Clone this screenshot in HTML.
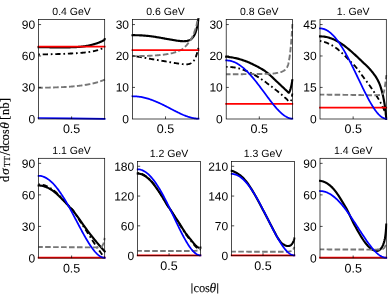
<!DOCTYPE html>
<html lang="en">
<head>
<meta charset="utf-8">
<title>Differential cross sections</title>
<style>
html,body{margin:0;padding:0;background:#fff;}
body{width:390px;height:295px;overflow:hidden;}
svg{display:block;will-change:transform;}
.t{font-family:"Liberation Sans",Arial,Helvetica,sans-serif;font-size:12px;fill:#000;}
.x{font-family:"Liberation Sans",Arial,Helvetica,sans-serif;font-size:12.5px;fill:#000;}
.h{font-family:"Liberation Sans",Arial,Helvetica,sans-serif;font-size:10.5px;fill:#000;}
.s{font-family:"Liberation Serif","Times New Roman",serif;font-size:12px;fill:#000;stroke:#000;stroke-width:0.18px;}
.i{font-style:italic;}
</style>
</head>
<body>
<svg width="390" height="295" viewBox="0 0 390 295">
<rect width="390" height="295" fill="#fff"/>
<defs>
<clipPath id="c0"><rect x="37.30" y="17.90" width="68.60" height="102.30"/></clipPath>
<clipPath id="c1"><rect x="131.20" y="17.90" width="68.60" height="102.30"/></clipPath>
<clipPath id="c2"><rect x="225.00" y="17.90" width="68.60" height="102.30"/></clipPath>
<clipPath id="c3"><rect x="318.80" y="17.90" width="68.70" height="102.30"/></clipPath>
<clipPath id="c4"><rect x="37.30" y="156.70" width="68.60" height="102.60"/></clipPath>
<clipPath id="c5"><rect x="136.40" y="159.90" width="65.30" height="97.05"/></clipPath>
<clipPath id="c6"><rect x="230.40" y="159.90" width="65.20" height="97.05"/></clipPath>
<clipPath id="c7"><rect x="318.80" y="156.70" width="68.70" height="102.60"/></clipPath>
</defs>
<g>
<g clip-path="url(#c0)" fill="none" stroke-linejoin="round">
<path d="M38.50 47.10 L39.59 47.12 L40.67 47.14 L41.74 47.16 L42.81 47.18 L43.87 47.20 L44.91 47.22 L45.96 47.24 L46.99 47.26 L48.01 47.28 L49.03 47.30 L50.04 47.32 L51.04 47.33 L52.03 47.35 L53.01 47.37 L53.99 47.38 L54.95 47.40 L55.91 47.41 L56.86 47.42 L57.80 47.43 L58.74 47.43 L59.66 47.44 L60.58 47.44 L61.49 47.44 L62.39 47.43 L63.28 47.43 L64.16 47.42 L65.04 47.41 L65.91 47.40 L66.76 47.39 L67.61 47.38 L68.45 47.36 L69.29 47.34 L70.11 47.32 L70.92 47.30 L71.73 47.28 L72.53 47.25 L73.32 47.22 L74.10 47.19 L74.87 47.16 L75.63 47.12 L76.39 47.08 L77.13 47.03 L77.87 46.98 L78.59 46.93 L79.31 46.87 L80.02 46.81 L80.72 46.74 L81.41 46.67 L82.10 46.59 L82.77 46.51 L83.44 46.42 L84.09 46.33 L84.74 46.23 L85.37 46.13 L86.00 46.03 L86.62 45.92 L87.23 45.80 L87.83 45.69 L88.42 45.57 L89.00 45.45 L89.57 45.33 L90.14 45.20 L90.69 45.07 L91.23 44.94 L91.77 44.81 L92.29 44.68 L92.81 44.54 L93.31 44.40 L93.81 44.27 L94.29 44.13 L94.77 43.99 L95.23 43.84 L95.69 43.70 L96.13 43.56 L96.57 43.41 L96.99 43.27 L97.41 43.12 L97.81 42.97 L98.21 42.83 L98.59 42.68 L98.97 42.53 L99.33 42.39 L99.68 42.24 L100.02 42.10 L100.36 41.96 L100.68 41.82 L100.99 41.68 L101.28 41.55 L101.57 41.42 L101.85 41.29 L102.11 41.16 L102.36 41.04 L102.61 40.92 L102.84 40.81 L103.05 40.69 L103.26 40.59 L103.45 40.48 L103.63 40.38 L103.80 40.28 L103.96 40.18 L104.10 40.08 L104.23 39.98 L104.34 39.87 L104.44 39.76 L104.53 39.63 L104.60 39.50 L104.65 39.37 L104.69 39.25 L104.70 39.20" stroke="#000" stroke-width="2.15" stroke-linecap="square"/>
<path d="M38.50 54.50 L39.59 54.48 L40.67 54.46 L41.74 54.44 L42.81 54.41 L43.87 54.39 L44.91 54.37 L45.96 54.34 L46.99 54.32 L48.01 54.29 L49.03 54.26 L50.04 54.24 L51.04 54.21 L52.03 54.18 L53.01 54.16 L53.99 54.13 L54.95 54.10 L55.91 54.07 L56.86 54.05 L57.80 54.02 L58.74 53.99 L59.66 53.96 L60.58 53.93 L61.49 53.90 L62.39 53.87 L63.28 53.83 L64.16 53.80 L65.04 53.77 L65.91 53.73 L66.76 53.70 L67.61 53.66 L68.45 53.62 L69.29 53.58 L70.11 53.54 L70.92 53.50 L71.73 53.46 L72.53 53.42 L73.32 53.38 L74.10 53.34 L74.87 53.30 L75.63 53.25 L76.39 53.21 L77.13 53.17 L77.87 53.12 L78.59 53.07 L79.31 53.02 L80.02 52.97 L80.72 52.91 L81.41 52.85 L82.10 52.79 L82.77 52.73 L83.44 52.66 L84.09 52.59 L84.74 52.53 L85.37 52.45 L86.00 52.38 L86.62 52.30 L87.23 52.23 L87.83 52.15 L88.42 52.07 L89.00 51.98 L89.57 51.90 L90.14 51.81 L90.69 51.72 L91.23 51.63 L91.77 51.54 L92.29 51.44 L92.81 51.34 L93.31 51.24 L93.81 51.14 L94.29 51.03 L94.77 50.92 L95.23 50.81 L95.69 50.70 L96.13 50.59 L96.57 50.47 L96.99 50.35 L97.41 50.24 L97.81 50.11 L98.21 49.99 L98.59 49.87 L98.97 49.74 L99.33 49.62 L99.68 49.49 L100.02 49.36 L100.36 49.24 L100.68 49.11 L100.99 48.98 L101.28 48.85 L101.57 48.72 L101.85 48.60 L102.11 48.47 L102.36 48.35 L102.61 48.23 L102.84 48.11 L103.05 47.99 L103.26 47.88 L103.45 47.77 L103.63 47.67 L103.80 47.57 L103.96 47.48 L104.10 47.39 L104.23 47.31 L104.34 47.24 L104.44 47.17 L104.53 47.11 L104.60 47.07 L104.65 47.03 L104.69 47.01 L104.70 47.00" stroke="#000" stroke-width="1.85" stroke-dasharray="5.3 2.8 1.7 2.8" stroke-dashoffset="8.4"/>
<path d="M38.50 87.80 L39.59 87.78 L40.67 87.76 L41.74 87.74 L42.81 87.72 L43.87 87.70 L44.91 87.68 L45.96 87.65 L46.99 87.63 L48.01 87.60 L49.03 87.58 L50.04 87.55 L51.04 87.52 L52.03 87.49 L53.01 87.46 L53.99 87.43 L54.95 87.40 L55.91 87.37 L56.86 87.34 L57.80 87.30 L58.74 87.27 L59.66 87.24 L60.58 87.20 L61.49 87.16 L62.39 87.13 L63.28 87.08 L64.16 87.04 L65.04 87.00 L65.91 86.95 L66.76 86.90 L67.61 86.85 L68.45 86.79 L69.29 86.73 L70.11 86.67 L70.92 86.61 L71.73 86.54 L72.53 86.47 L73.32 86.40 L74.10 86.32 L74.87 86.25 L75.63 86.17 L76.39 86.09 L77.13 86.01 L77.87 85.92 L78.59 85.84 L79.31 85.75 L80.02 85.66 L80.72 85.57 L81.41 85.48 L82.10 85.39 L82.77 85.29 L83.44 85.20 L84.09 85.10 L84.74 85.00 L85.37 84.90 L86.00 84.80 L86.62 84.70 L87.23 84.60 L87.83 84.50 L88.42 84.39 L89.00 84.28 L89.57 84.17 L90.14 84.06 L90.69 83.95 L91.23 83.84 L91.77 83.72 L92.29 83.60 L92.81 83.48 L93.31 83.36 L93.81 83.23 L94.29 83.11 L94.77 82.98 L95.23 82.86 L95.69 82.73 L96.13 82.60 L96.57 82.48 L96.99 82.35 L97.41 82.23 L97.81 82.11 L98.21 81.98 L98.59 81.87 L98.97 81.75 L99.33 81.63 L99.68 81.52 L100.02 81.40 L100.36 81.29 L100.68 81.18 L100.99 81.07 L101.28 80.96 L101.57 80.86 L101.85 80.76 L102.11 80.66 L102.36 80.56 L102.61 80.47 L102.84 80.38 L103.05 80.29 L103.26 80.21 L103.45 80.13 L103.63 80.06 L103.80 79.99 L103.96 79.92 L104.10 79.86 L104.23 79.81 L104.34 79.76 L104.44 79.71 L104.53 79.68 L104.60 79.65 L104.65 79.62 L104.69 79.61 L104.70 79.60" stroke="#777" stroke-width="1.90" stroke-dasharray="5.6 2.35" stroke-dashoffset="1.3"/>
<path d="M37.60 46.50 L105.60 46.50" stroke="#ff0000" stroke-width="1.75"/>
<path d="M38.50 118.00 L71.00 118.30 L104.70 118.80" stroke="#0000ff" stroke-width="1.75" stroke-linecap="square"/>
</g>
<text transform="translate(35.10 123.20) rotate(0.03)" text-anchor="end" class="t">0</text>
<text transform="translate(35.10 91.52) rotate(0.03)" text-anchor="end" class="t">30</text>
<text transform="translate(35.10 60.08) rotate(0.03)" text-anchor="end" class="t">60</text>
<text transform="translate(35.10 28.65) rotate(0.03)" text-anchor="end" class="t">90</text>
<rect x="38.50" y="19.50" width="66.20" height="99.50" fill="none" stroke="#000" stroke-width="0.70"/>
<path d="M38.50 87.42h2.60M38.50 55.98h2.60M38.50 24.55h2.60M71.60 119.00v-2.60" stroke="#000" stroke-width="0.70" fill="none"/>
<text transform="translate(71.60 133.00) rotate(0.03)" text-anchor="middle" class="x">0.5</text>
<text transform="translate(71.60 15.10) rotate(0.03)" text-anchor="middle" class="h">0.4 GeV</text>
</g>
<g>
<g clip-path="url(#c1)" fill="none" stroke-linejoin="round">
<path d="M132.40 35.20 L133.49 35.19 L134.57 35.19 L135.64 35.20 L136.71 35.22 L137.77 35.25 L138.81 35.28 L139.86 35.32 L140.89 35.38 L141.91 35.43 L142.93 35.50 L143.94 35.57 L144.94 35.65 L145.93 35.74 L146.91 35.83 L147.89 35.93 L148.85 36.04 L149.81 36.15 L150.76 36.27 L151.70 36.39 L152.64 36.52 L153.56 36.65 L154.48 36.79 L155.39 36.93 L156.29 37.07 L157.18 37.22 L158.06 37.36 L158.94 37.51 L159.81 37.66 L160.66 37.81 L161.51 37.97 L162.35 38.12 L163.19 38.27 L164.01 38.42 L164.82 38.57 L165.63 38.72 L166.43 38.86 L167.22 39.00 L168.00 39.14 L168.77 39.28 L169.53 39.42 L170.29 39.55 L171.03 39.68 L171.77 39.81 L172.49 39.93 L173.21 40.05 L173.92 40.17 L174.62 40.28 L175.31 40.39 L176.00 40.50 L176.67 40.60 L177.34 40.70 L177.99 40.79 L178.64 40.87 L179.27 40.94 L179.90 41.01 L180.52 41.07 L181.13 41.12 L181.73 41.16 L182.32 41.19 L182.90 41.21 L183.47 41.21 L184.04 41.21 L184.59 41.19 L185.13 41.16 L185.67 41.11 L186.19 41.06 L186.71 40.98 L187.21 40.89 L187.71 40.78 L188.19 40.64 L188.67 40.49 L189.13 40.31 L189.59 40.11 L190.03 39.88 L190.47 39.62 L190.89 39.33 L191.31 39.01 L191.71 38.66 L192.11 38.28 L192.49 37.87 L192.87 37.42 L193.23 36.94 L193.58 36.43 L193.92 35.88 L194.26 35.29 L194.58 34.66 L194.89 33.99 L195.18 33.29 L195.47 32.55 L195.75 31.78 L196.01 30.96 L196.26 30.12 L196.51 29.25 L196.74 28.36 L196.95 27.44 L197.16 26.51 L197.35 25.56 L197.53 24.62 L197.70 23.69 L197.86 22.77 L198.00 21.88 L198.13 21.03 L198.24 20.23 L198.34 19.51 L198.43 18.87 L198.50 18.33 L198.55 17.90 L198.59 17.62 L198.60 17.50" stroke="#000" stroke-width="2.15" stroke-linecap="square"/>
<path d="M132.40 56.10 L133.49 56.18 L134.57 56.28 L135.64 56.39 L136.71 56.51 L137.77 56.64 L138.81 56.78 L139.86 56.94 L140.89 57.10 L141.91 57.27 L142.93 57.44 L143.94 57.62 L144.94 57.81 L145.93 58.00 L146.91 58.19 L147.89 58.38 L148.85 58.57 L149.81 58.75 L150.76 58.93 L151.70 59.11 L152.64 59.27 L153.56 59.43 L154.48 59.59 L155.39 59.74 L156.29 59.89 L157.18 60.03 L158.06 60.17 L158.94 60.31 L159.81 60.45 L160.66 60.59 L161.51 60.72 L162.35 60.86 L163.19 60.99 L164.01 61.13 L164.82 61.27 L165.63 61.41 L166.43 61.55 L167.22 61.69 L168.00 61.83 L168.77 61.97 L169.53 62.11 L170.29 62.24 L171.03 62.37 L171.77 62.50 L172.49 62.62 L173.21 62.75 L173.92 62.87 L174.62 62.98 L175.31 63.09 L176.00 63.20 L176.67 63.30 L177.34 63.41 L177.99 63.51 L178.64 63.61 L179.27 63.70 L179.90 63.80 L180.52 63.89 L181.13 63.98 L181.73 64.06 L182.32 64.13 L182.90 64.20 L183.47 64.26 L184.04 64.32 L184.59 64.36 L185.13 64.39 L185.67 64.41 L186.19 64.41 L186.71 64.39 L187.21 64.34 L187.71 64.28 L188.19 64.20 L188.67 64.10 L189.13 63.98 L189.59 63.84 L190.03 63.67 L190.47 63.48 L190.89 63.26 L191.31 63.02 L191.71 62.76 L192.11 62.47 L192.49 62.15 L192.87 61.81 L193.23 61.43 L193.58 61.01 L193.92 60.56 L194.26 60.07 L194.58 59.54 L194.89 58.97 L195.18 58.35 L195.47 57.70 L195.75 57.02 L196.01 56.32 L196.26 55.61 L196.51 54.90 L196.74 54.20 L196.95 53.51 L197.16 52.82 L197.35 52.15 L197.53 51.49 L197.70 50.86 L197.86 50.25 L198.00 49.67 L198.13 49.13 L198.24 48.64 L198.34 48.19 L198.43 47.81 L198.50 47.48 L198.55 47.24 L198.59 47.07 L198.60 47.00" stroke="#000" stroke-width="1.85" stroke-dasharray="5.3 2.8 1.7 2.8" stroke-dashoffset="8.4"/>
<path d="M132.40 56.10 L133.49 56.11 L134.57 56.12 L135.64 56.12 L136.71 56.11 L137.77 56.11 L138.81 56.09 L139.86 56.08 L140.89 56.06 L141.91 56.04 L142.93 56.01 L143.94 55.98 L144.94 55.95 L145.93 55.91 L146.91 55.87 L147.89 55.83 L148.85 55.78 L149.81 55.74 L150.76 55.69 L151.70 55.63 L152.64 55.58 L153.56 55.52 L154.48 55.46 L155.39 55.40 L156.29 55.34 L157.18 55.27 L158.06 55.20 L158.94 55.13 L159.81 55.06 L160.66 54.98 L161.51 54.90 L162.35 54.81 L163.19 54.72 L164.01 54.62 L164.82 54.52 L165.63 54.42 L166.43 54.30 L167.22 54.18 L168.00 54.05 L168.77 53.91 L169.53 53.76 L170.29 53.61 L171.03 53.44 L171.77 53.27 L172.49 53.08 L173.21 52.89 L173.92 52.68 L174.62 52.47 L175.31 52.24 L176.00 52.00 L176.67 51.76 L177.34 51.51 L177.99 51.26 L178.64 51.00 L179.27 50.73 L179.90 50.45 L180.52 50.14 L181.13 49.82 L181.73 49.47 L182.32 49.09 L182.90 48.69 L183.47 48.27 L184.04 47.80 L184.59 47.29 L185.13 46.76 L185.67 46.20 L186.19 45.62 L186.71 45.03 L187.21 44.42 L187.71 43.81 L188.19 43.20 L188.67 42.58 L189.13 41.97 L189.59 41.35 L190.03 40.73 L190.47 40.09 L190.89 39.42 L191.31 38.74 L191.71 38.03 L192.11 37.28 L192.49 36.51 L192.87 35.70 L193.23 34.88 L193.58 34.03 L193.92 33.17 L194.26 32.31 L194.58 31.43 L194.89 30.55 L195.18 29.68 L195.47 28.81 L195.75 27.94 L196.01 27.05 L196.26 26.14 L196.51 25.20 L196.74 24.24 L196.95 23.25 L197.16 22.23 L197.35 21.21 L197.53 20.20 L197.70 19.22 L197.86 18.27 L198.00 17.37 L198.13 16.52 L198.24 15.73 L198.34 15.01 L198.43 14.37 L198.50 13.83 L198.55 13.40 L198.59 13.12 L198.60 13.00" stroke="#777" stroke-width="1.90" stroke-dasharray="5.6 2.35" stroke-dashoffset="1.3"/>
<path d="M131.50 50.20 L199.50 50.20" stroke="#ff0000" stroke-width="1.75"/>
<path d="M132.40 96.25 L133.49 96.26 L134.57 96.30 L135.64 96.36 L136.71 96.44 L137.77 96.54 L138.81 96.67 L139.86 96.81 L140.89 96.98 L141.91 97.17 L142.93 97.37 L143.94 97.59 L144.94 97.83 L145.93 98.08 L146.91 98.35 L147.89 98.63 L148.85 98.93 L149.81 99.24 L150.76 99.56 L151.70 99.90 L152.64 100.24 L153.56 100.59 L154.48 100.96 L155.39 101.33 L156.29 101.70 L157.18 102.09 L158.06 102.48 L158.94 102.87 L159.81 103.27 L160.66 103.67 L161.51 104.08 L162.35 104.48 L163.19 104.89 L164.01 105.30 L164.82 105.71 L165.63 106.12 L166.43 106.52 L167.22 106.93 L168.00 107.33 L168.77 107.73 L169.53 108.13 L170.29 108.52 L171.03 108.91 L171.77 109.29 L172.49 109.67 L173.21 110.04 L173.92 110.41 L174.62 110.77 L175.31 111.12 L176.00 111.47 L176.67 111.81 L177.34 112.14 L177.99 112.46 L178.64 112.77 L179.27 113.08 L179.90 113.38 L180.52 113.67 L181.13 113.95 L181.73 114.22 L182.32 114.48 L182.90 114.74 L183.47 114.98 L184.04 115.22 L184.59 115.44 L185.13 115.66 L185.67 115.87 L186.19 116.06 L186.71 116.25 L187.21 116.43 L187.71 116.61 L188.19 116.77 L188.67 116.92 L189.13 117.07 L189.59 117.21 L190.03 117.34 L190.47 117.46 L190.89 117.57 L191.31 117.68 L191.71 117.78 L192.11 117.87 L192.49 117.96 L192.87 118.03 L193.23 118.11 L193.58 118.17 L193.92 118.23 L194.26 118.29 L194.58 118.34 L194.89 118.38 L195.18 118.42 L195.47 118.46 L195.75 118.49 L196.01 118.52 L196.26 118.54 L196.51 118.56 L196.74 118.58 L196.95 118.60 L197.16 118.61 L197.35 118.62 L197.53 118.63 L197.70 118.63 L197.86 118.64 L198.00 118.64 L198.13 118.65 L198.24 118.65 L198.34 118.65 L198.43 118.65 L198.50 118.65 L198.55 118.65 L198.59 118.65 L198.60 118.65" stroke="#0000ff" stroke-width="1.75" stroke-linecap="square"/>
</g>
<text transform="translate(129.00 123.20) rotate(0.03)" text-anchor="end" class="t">0</text>
<text transform="translate(129.00 91.52) rotate(0.03)" text-anchor="end" class="t">10</text>
<text transform="translate(129.00 60.08) rotate(0.03)" text-anchor="end" class="t">20</text>
<text transform="translate(129.00 28.65) rotate(0.03)" text-anchor="end" class="t">30</text>
<rect x="132.40" y="19.50" width="66.20" height="99.50" fill="none" stroke="#000" stroke-width="0.70"/>
<path d="M132.40 87.42h2.60M132.40 55.98h2.60M132.40 24.55h2.60M165.50 119.00v-2.60" stroke="#000" stroke-width="0.70" fill="none"/>
<text transform="translate(165.50 133.00) rotate(0.03)" text-anchor="middle" class="x">0.5</text>
<text transform="translate(165.50 15.10) rotate(0.03)" text-anchor="middle" class="h">0.6 GeV</text>
</g>
<g>
<g clip-path="url(#c2)" fill="none" stroke-linejoin="round">
<path d="M226.20 56.70 L227.29 56.80 L228.37 56.92 L229.44 57.06 L230.51 57.21 L231.57 57.38 L232.61 57.56 L233.66 57.74 L234.69 57.94 L235.71 58.15 L236.73 58.38 L237.74 58.63 L238.74 58.90 L239.73 59.18 L240.71 59.48 L241.69 59.80 L242.65 60.12 L243.61 60.45 L244.56 60.78 L245.50 61.12 L246.44 61.46 L247.36 61.82 L248.28 62.20 L249.19 62.58 L250.09 62.99 L250.98 63.40 L251.86 63.82 L252.74 64.24 L253.61 64.67 L254.46 65.10 L255.31 65.53 L256.15 65.96 L256.99 66.39 L257.81 66.82 L258.62 67.25 L259.43 67.68 L260.23 68.12 L261.02 68.57 L261.80 69.03 L262.57 69.49 L263.33 69.97 L264.09 70.46 L264.83 70.97 L265.57 71.50 L266.29 72.04 L267.01 72.60 L267.72 73.17 L268.42 73.75 L269.11 74.35 L269.80 74.96 L270.47 75.58 L271.14 76.20 L271.79 76.81 L272.44 77.41 L273.07 78.01 L273.70 78.60 L274.32 79.19 L274.93 79.78 L275.53 80.35 L276.12 80.91 L276.70 81.47 L277.27 82.01 L277.84 82.55 L278.39 83.08 L278.93 83.59 L279.47 84.10 L279.99 84.59 L280.51 85.07 L281.01 85.54 L281.51 86.00 L281.99 86.44 L282.47 86.88 L282.93 87.31 L283.39 87.73 L283.83 88.14 L284.27 88.55 L284.69 88.96 L285.11 89.35 L285.51 89.74 L285.91 90.12 L286.29 90.48 L286.67 90.83 L287.03 91.17 L287.38 91.48 L287.72 91.83 L288.06 92.21 L288.38 92.52 L288.69 92.69 L288.98 92.62 L289.27 92.25 L289.55 91.69 L289.81 91.06 L290.06 90.44 L290.31 89.73 L290.54 88.92 L290.75 88.07 L290.96 87.22 L291.15 86.40 L291.33 85.62 L291.50 84.86 L291.66 84.12 L291.80 83.42 L291.93 82.77 L292.04 82.17 L292.14 81.63 L292.23 81.16 L292.30 80.78 L292.35 80.48 L292.39 80.28 L292.40 80.20" stroke="#000" stroke-width="2.15" stroke-linecap="square"/>
<path d="M226.20 66.80 L227.29 66.81 L228.37 66.86 L229.44 66.92 L230.51 67.00 L231.57 67.10 L232.61 67.21 L233.66 67.33 L234.69 67.46 L235.71 67.61 L236.73 67.81 L237.74 68.06 L238.74 68.35 L239.73 68.67 L240.71 69.00 L241.69 69.33 L242.65 69.65 L243.61 69.98 L244.56 70.32 L245.50 70.68 L246.44 71.05 L247.36 71.43 L248.28 71.82 L249.19 72.23 L250.09 72.64 L250.98 73.05 L251.86 73.48 L252.74 73.92 L253.61 74.38 L254.46 74.86 L255.31 75.34 L256.15 75.84 L256.99 76.35 L257.81 76.86 L258.62 77.37 L259.43 77.88 L260.23 78.40 L261.02 78.91 L261.80 79.43 L262.57 79.95 L263.33 80.48 L264.09 81.01 L264.83 81.55 L265.57 82.08 L266.29 82.62 L267.01 83.15 L267.72 83.69 L268.42 84.21 L269.11 84.73 L269.80 85.25 L270.47 85.76 L271.14 86.26 L271.79 86.76 L272.44 87.25 L273.07 87.75 L273.70 88.23 L274.32 88.72 L274.93 89.20 L275.53 89.67 L276.12 90.14 L276.70 90.60 L277.27 91.06 L277.84 91.52 L278.39 91.97 L278.93 92.42 L279.47 92.86 L279.99 93.29 L280.51 93.72 L281.01 94.15 L281.51 94.56 L281.99 94.98 L282.47 95.39 L282.93 95.79 L283.39 96.18 L283.83 96.57 L284.27 96.95 L284.69 97.33 L285.11 97.69 L285.51 98.05 L285.91 98.40 L286.29 98.75 L286.67 99.08 L287.03 99.42 L287.38 99.82 L287.72 100.24 L288.06 100.64 L288.38 101.00 L288.69 101.28 L288.98 101.49 L289.27 101.59 L289.55 101.59 L289.81 101.51 L290.06 101.38 L290.31 101.20 L290.54 100.99 L290.75 100.77 L290.96 100.52 L291.15 100.10 L291.33 99.51 L291.50 98.82 L291.66 98.06 L291.80 97.30 L291.93 96.55 L292.04 95.85 L292.14 95.21 L292.23 94.65 L292.30 94.19 L292.35 93.83 L292.39 93.60 L292.40 93.50" stroke="#000" stroke-width="1.85" stroke-dasharray="5.3 2.8 1.7 2.8" stroke-dashoffset="8.4"/>
<path d="M226.20 74.30 L227.29 74.29 L228.37 74.29 L229.44 74.28 L230.51 74.28 L231.57 74.27 L232.61 74.26 L233.66 74.25 L234.69 74.25 L235.71 74.24 L236.73 74.23 L237.74 74.22 L238.74 74.21 L239.73 74.20 L240.71 74.19 L241.69 74.19 L242.65 74.18 L243.61 74.17 L244.56 74.16 L245.50 74.15 L246.44 74.14 L247.36 74.13 L248.28 74.12 L249.19 74.11 L250.09 74.10 L250.98 74.09 L251.86 74.08 L252.74 74.07 L253.61 74.06 L254.46 74.06 L255.31 74.05 L256.15 74.04 L256.99 74.03 L257.81 74.02 L258.62 74.01 L259.43 74.00 L260.23 73.99 L261.02 73.98 L261.80 73.97 L262.57 73.96 L263.33 73.95 L264.09 73.94 L264.83 73.92 L265.57 73.91 L266.29 73.89 L267.01 73.88 L267.72 73.86 L268.42 73.84 L269.11 73.83 L269.80 73.81 L270.47 73.78 L271.14 73.75 L271.79 73.70 L272.44 73.65 L273.07 73.58 L273.70 73.51 L274.32 73.43 L274.93 73.34 L275.53 73.25 L276.12 73.15 L276.70 73.05 L277.27 72.94 L277.84 72.83 L278.39 72.72 L278.93 72.60 L279.47 72.48 L279.99 72.36 L280.51 72.21 L281.01 72.04 L281.51 71.86 L281.99 71.66 L282.47 71.44 L282.93 71.21 L283.39 70.96 L283.83 70.70 L284.27 70.42 L284.69 70.12 L285.11 69.82 L285.51 69.46 L285.91 69.04 L286.29 68.55 L286.67 67.99 L287.03 67.37 L287.38 66.69 L287.72 65.94 L288.06 64.97 L288.38 63.70 L288.69 62.24 L288.98 60.64 L289.27 58.98 L289.55 57.30 L289.81 55.46 L290.06 53.44 L290.31 51.30 L290.54 49.13 L290.75 46.97 L290.96 44.82 L291.15 42.62 L291.33 40.40 L291.50 38.22 L291.66 36.11 L291.80 34.07 L291.93 32.10 L292.04 30.25 L292.14 28.57 L292.23 27.09 L292.30 25.86 L292.35 24.90 L292.39 24.26 L292.40 24.00" stroke="#777" stroke-width="1.90" stroke-dasharray="5.6 2.35" stroke-dashoffset="1.3"/>
<path d="M225.30 103.80 L293.30 103.80" stroke="#ff0000" stroke-width="1.75"/>
<path d="M226.20 60.40 L227.29 60.43 L228.37 60.53 L229.44 60.68 L230.51 60.89 L231.57 61.16 L232.61 61.49 L233.66 61.87 L234.69 62.30 L235.71 62.78 L236.73 63.31 L237.74 63.88 L238.74 64.50 L239.73 65.16 L240.71 65.86 L241.69 66.60 L242.65 67.37 L243.61 68.18 L244.56 69.02 L245.50 69.89 L246.44 70.78 L247.36 71.70 L248.28 72.64 L249.19 73.60 L250.09 74.58 L250.98 75.58 L251.86 76.59 L252.74 77.62 L253.61 78.66 L254.46 79.70 L255.31 80.75 L256.15 81.81 L256.99 82.87 L257.81 83.93 L258.62 85.00 L259.43 86.06 L260.23 87.12 L261.02 88.17 L261.80 89.22 L262.57 90.26 L263.33 91.29 L264.09 92.31 L264.83 93.32 L265.57 94.31 L266.29 95.30 L267.01 96.26 L267.72 97.22 L268.42 98.15 L269.11 99.07 L269.80 99.97 L270.47 100.85 L271.14 101.71 L271.79 102.55 L272.44 103.37 L273.07 104.17 L273.70 104.94 L274.32 105.69 L274.93 106.42 L275.53 107.13 L276.12 107.81 L276.70 108.47 L277.27 109.11 L277.84 109.72 L278.39 110.31 L278.93 110.87 L279.47 111.41 L279.99 111.93 L280.51 112.42 L281.01 112.89 L281.51 113.34 L281.99 113.76 L282.47 114.16 L282.93 114.54 L283.39 114.90 L283.83 115.24 L284.27 115.55 L284.69 115.85 L285.11 116.13 L285.51 116.38 L285.91 116.62 L286.29 116.85 L286.67 117.05 L287.03 117.24 L287.38 117.41 L287.72 117.57 L288.06 117.71 L288.38 117.84 L288.69 117.96 L288.98 118.06 L289.27 118.15 L289.55 118.24 L289.81 118.31 L290.06 118.37 L290.31 118.42 L290.54 118.47 L290.75 118.51 L290.96 118.54 L291.15 118.57 L291.33 118.59 L291.50 118.61 L291.66 118.62 L291.80 118.63 L291.93 118.64 L292.04 118.64 L292.14 118.65 L292.23 118.65 L292.30 118.65 L292.35 118.65 L292.39 118.65 L292.40 118.65" stroke="#0000ff" stroke-width="1.75" stroke-linecap="square"/>
</g>
<text transform="translate(222.80 123.20) rotate(0.03)" text-anchor="end" class="t">0</text>
<text transform="translate(222.80 91.52) rotate(0.03)" text-anchor="end" class="t">10</text>
<text transform="translate(222.80 60.08) rotate(0.03)" text-anchor="end" class="t">20</text>
<text transform="translate(222.80 28.65) rotate(0.03)" text-anchor="end" class="t">30</text>
<rect x="226.20" y="19.50" width="66.20" height="99.50" fill="none" stroke="#000" stroke-width="0.70"/>
<path d="M226.20 87.42h2.60M226.20 55.98h2.60M226.20 24.55h2.60M259.30 119.00v-2.60" stroke="#000" stroke-width="0.70" fill="none"/>
<text transform="translate(259.30 133.00) rotate(0.03)" text-anchor="middle" class="x">0.5</text>
<text transform="translate(259.30 15.10) rotate(0.03)" text-anchor="middle" class="h">0.8 GeV</text>
</g>
<g>
<g clip-path="url(#c3)" fill="none" stroke-linejoin="round">
<path d="M320.00 36.40 L321.09 36.41 L322.17 36.46 L323.25 36.55 L324.32 36.68 L325.37 36.85 L326.42 37.05 L327.47 37.29 L328.50 37.56 L329.53 37.86 L330.54 38.19 L331.55 38.56 L332.56 38.95 L333.55 39.36 L334.53 39.81 L335.51 40.28 L336.48 40.77 L337.44 41.29 L338.39 41.83 L339.33 42.39 L340.27 42.97 L341.20 43.57 L342.11 44.20 L343.02 44.83 L343.93 45.49 L344.82 46.16 L345.70 46.83 L346.58 47.52 L347.45 48.22 L348.31 48.92 L349.16 49.63 L350.00 50.34 L350.83 51.06 L351.66 51.77 L352.47 52.49 L353.28 53.21 L354.08 53.93 L354.87 54.66 L355.65 55.38 L356.42 56.10 L357.19 56.81 L357.94 57.53 L358.69 58.23 L359.43 58.94 L360.15 59.64 L360.87 60.33 L361.59 61.02 L362.29 61.70 L362.98 62.36 L363.66 63.01 L364.34 63.62 L365.00 64.23 L365.66 64.82 L366.31 65.42 L366.94 66.03 L367.57 66.65 L368.19 67.29 L368.80 67.95 L369.40 68.62 L370.00 69.29 L370.58 69.97 L371.15 70.65 L371.71 71.33 L372.27 72.01 L372.81 72.70 L373.35 73.39 L373.87 74.08 L374.39 74.78 L374.89 75.48 L375.39 76.20 L375.88 76.93 L376.35 77.68 L376.82 78.46 L377.27 79.25 L377.72 80.08 L378.16 80.92 L378.58 81.80 L379.00 82.70 L379.40 83.63 L379.80 84.60 L380.18 85.63 L380.56 86.74 L380.92 87.89 L381.28 89.07 L381.62 90.27 L381.95 91.51 L382.27 92.78 L382.58 94.06 L382.88 95.34 L383.17 96.61 L383.44 97.88 L383.71 99.16 L383.96 100.47 L384.20 101.82 L384.43 103.21 L384.65 104.61 L384.86 106.02 L385.05 107.42 L385.23 108.80 L385.40 110.16 L385.56 111.48 L385.70 112.75 L385.83 113.96 L385.94 115.09 L386.04 116.11 L386.13 117.01 L386.20 117.76 L386.25 118.34 L386.29 118.74 L386.30 118.90" stroke="#000" stroke-width="2.15" stroke-linecap="square"/>
<path d="M320.00 41.00 L321.09 41.17 L322.17 41.39 L323.25 41.66 L324.32 41.98 L325.37 42.33 L326.42 42.72 L327.47 43.14 L328.50 43.58 L329.53 44.04 L330.54 44.55 L331.55 45.09 L332.56 45.67 L333.55 46.29 L334.53 46.94 L335.51 47.62 L336.48 48.34 L337.44 49.08 L338.39 49.84 L339.33 50.63 L340.27 51.44 L341.20 52.26 L342.11 53.11 L343.02 53.97 L343.93 54.84 L344.82 55.73 L345.70 56.63 L346.58 57.53 L347.45 58.44 L348.31 59.34 L349.16 60.21 L350.00 61.05 L350.83 61.87 L351.66 62.68 L352.47 63.50 L353.28 64.31 L354.08 65.14 L354.87 65.98 L355.65 66.85 L356.42 67.75 L357.19 68.68 L357.94 69.65 L358.69 70.64 L359.43 71.65 L360.15 72.67 L360.87 73.69 L361.59 74.69 L362.29 75.68 L362.98 76.63 L363.66 77.56 L364.34 78.44 L365.00 79.32 L365.66 80.19 L366.31 81.05 L366.94 81.90 L367.57 82.75 L368.19 83.59 L368.80 84.43 L369.40 85.25 L370.00 86.08 L370.58 86.89 L371.15 87.70 L371.71 88.51 L372.27 89.30 L372.81 90.09 L373.35 90.88 L373.87 91.65 L374.39 92.42 L374.89 93.19 L375.39 93.95 L375.88 94.71 L376.35 95.46 L376.82 96.20 L377.27 96.95 L377.72 97.68 L378.16 98.41 L378.58 99.13 L379.00 99.84 L379.40 100.55 L379.80 101.25 L380.18 101.94 L380.56 102.63 L380.92 103.31 L381.28 103.98 L381.62 104.64 L381.95 105.29 L382.27 105.93 L382.58 106.56 L382.88 107.18 L383.17 107.78 L383.44 108.37 L383.71 108.95 L383.96 109.51 L384.20 110.06 L384.43 110.59 L384.65 111.10 L384.86 111.60 L385.05 112.08 L385.23 112.55 L385.40 113.01 L385.56 113.47 L385.70 113.92 L385.83 114.39 L385.94 114.88 L386.04 115.40 L386.13 115.98 L386.20 116.60 L386.25 117.23 L386.29 117.75 L386.30 118.00" stroke="#000" stroke-width="1.85" stroke-dasharray="5.3 2.8 1.7 2.8" stroke-dashoffset="8.4"/>
<path d="M320.00 94.60 L321.09 94.61 L322.17 94.62 L323.25 94.63 L324.32 94.64 L325.37 94.65 L326.42 94.66 L327.47 94.67 L328.50 94.68 L329.53 94.69 L330.54 94.70 L331.55 94.71 L332.56 94.71 L333.55 94.72 L334.53 94.73 L335.51 94.74 L336.48 94.75 L337.44 94.76 L338.39 94.77 L339.33 94.78 L340.27 94.79 L341.20 94.80 L342.11 94.81 L343.02 94.82 L343.93 94.83 L344.82 94.84 L345.70 94.85 L346.58 94.86 L347.45 94.87 L348.31 94.88 L349.16 94.89 L350.00 94.90 L350.83 94.91 L351.66 94.92 L352.47 94.93 L353.28 94.94 L354.08 94.96 L354.87 94.97 L355.65 94.98 L356.42 94.99 L357.19 95.01 L357.94 95.02 L358.69 95.03 L359.43 95.04 L360.15 95.06 L360.87 95.07 L361.59 95.08 L362.29 95.09 L362.98 95.10 L363.66 95.11 L364.34 95.12 L365.00 95.13 L365.66 95.14 L366.31 95.15 L366.94 95.16 L367.57 95.17 L368.19 95.17 L368.80 95.18 L369.40 95.18 L370.00 95.19 L370.58 95.19 L371.15 95.19 L371.71 95.20 L372.27 95.20 L372.81 95.20 L373.35 95.20 L373.87 95.20 L374.39 95.20 L374.89 95.19 L375.39 95.18 L375.88 95.17 L376.35 95.16 L376.82 95.15 L377.27 95.13 L377.72 95.11 L378.16 95.09 L378.58 95.07 L379.00 95.05 L379.40 95.02 L379.80 95.00 L380.18 94.97 L380.56 94.94 L380.92 94.91 L381.28 94.85 L381.62 94.74 L381.95 94.57 L382.27 94.35 L382.58 94.08 L382.88 93.78 L383.17 93.44 L383.44 93.08 L383.71 92.54 L383.96 91.60 L384.20 90.42 L384.43 89.14 L384.65 87.86 L384.86 86.67 L385.05 85.43 L385.23 84.16 L385.40 82.89 L385.56 81.67 L385.70 80.52 L385.83 79.44 L385.94 78.42 L386.04 77.50 L386.13 76.69 L386.20 76.01 L386.25 75.49 L386.29 75.14 L386.30 75.00" stroke="#777" stroke-width="1.90" stroke-dasharray="5.6 2.35" stroke-dashoffset="1.3"/>
<path d="M319.10 107.50 L387.20 107.50" stroke="#ff0000" stroke-width="1.75"/>
<path d="M320.00 28.40 L321.09 28.45 L322.17 28.59 L323.25 28.83 L324.32 29.16 L325.37 29.58 L326.42 30.09 L327.47 30.67 L328.50 31.34 L329.53 32.09 L330.54 32.91 L331.55 33.80 L332.56 34.76 L333.55 35.78 L334.53 36.87 L335.51 38.01 L336.48 39.21 L337.44 40.46 L338.39 41.75 L339.33 43.10 L340.27 44.48 L341.20 45.91 L342.11 47.36 L343.02 48.86 L343.93 50.38 L344.82 51.92 L345.70 53.49 L346.58 55.08 L347.45 56.68 L348.31 58.30 L349.16 59.93 L350.00 61.57 L350.83 63.22 L351.66 64.86 L352.47 66.51 L353.28 68.15 L354.08 69.79 L354.87 71.42 L355.65 73.05 L356.42 74.66 L357.19 76.25 L357.94 77.84 L358.69 79.40 L359.43 80.94 L360.15 82.47 L360.87 83.97 L361.59 85.44 L362.29 86.89 L362.98 88.31 L363.66 89.71 L364.34 91.07 L365.00 92.41 L365.66 93.71 L366.31 94.97 L366.94 96.21 L367.57 97.41 L368.19 98.58 L368.80 99.71 L369.40 100.80 L370.00 101.86 L370.58 102.88 L371.15 103.86 L371.71 104.81 L372.27 105.72 L372.81 106.60 L373.35 107.43 L373.87 108.23 L374.39 109.00 L374.89 109.72 L375.39 110.42 L375.88 111.07 L376.35 111.70 L376.82 112.28 L377.27 112.84 L377.72 113.36 L378.16 113.85 L378.58 114.31 L379.00 114.74 L379.40 115.14 L379.80 115.51 L380.18 115.85 L380.56 116.17 L380.92 116.46 L381.28 116.73 L381.62 116.97 L381.95 117.20 L382.27 117.40 L382.58 117.58 L382.88 117.74 L383.17 117.88 L383.44 118.01 L383.71 118.12 L383.96 118.22 L384.20 118.30 L384.43 118.37 L384.65 118.43 L384.86 118.48 L385.05 118.52 L385.23 118.56 L385.40 118.58 L385.56 118.61 L385.70 118.62 L385.83 118.63 L385.94 118.64 L386.04 118.64 L386.13 118.65 L386.20 118.65 L386.25 118.65 L386.29 118.65 L386.30 118.65" stroke="#0000ff" stroke-width="1.75" stroke-linecap="square"/>
</g>
<text transform="translate(316.60 123.20) rotate(0.03)" text-anchor="end" class="t">0</text>
<text transform="translate(316.60 91.52) rotate(0.03)" text-anchor="end" class="t">15</text>
<text transform="translate(316.60 60.08) rotate(0.03)" text-anchor="end" class="t">30</text>
<text transform="translate(316.60 28.65) rotate(0.03)" text-anchor="end" class="t">45</text>
<rect x="320.00" y="19.50" width="66.30" height="99.50" fill="none" stroke="#000" stroke-width="0.70"/>
<path d="M320.00 87.42h2.60M320.00 55.98h2.60M320.00 24.55h2.60M353.15 119.00v-2.60" stroke="#000" stroke-width="0.70" fill="none"/>
<text transform="translate(353.15 133.00) rotate(0.03)" text-anchor="middle" class="x">0.5</text>
<text transform="translate(353.15 15.10) rotate(0.03)" text-anchor="middle" class="h">1. GeV</text>
</g>
<g>
<g clip-path="url(#c4)" fill="none" stroke-linejoin="round">
<path d="M38.50 185.50 L39.59 185.54 L40.67 185.64 L41.74 185.80 L42.81 186.01 L43.87 186.28 L44.91 186.60 L45.96 186.98 L46.99 187.39 L48.01 187.86 L49.03 188.38 L50.04 188.94 L51.04 189.55 L52.03 190.20 L53.01 190.88 L53.99 191.60 L54.95 192.36 L55.91 193.16 L56.86 194.00 L57.80 194.87 L58.74 195.76 L59.66 196.67 L60.58 197.58 L61.49 198.49 L62.39 199.39 L63.28 200.30 L64.16 201.20 L65.04 202.11 L65.91 203.02 L66.76 203.94 L67.61 204.85 L68.45 205.77 L69.29 206.70 L70.11 207.55 L70.92 208.35 L71.73 209.15 L72.53 210.02 L73.32 211.01 L74.10 212.03 L74.87 213.06 L75.63 214.10 L76.39 215.13 L77.13 216.16 L77.87 217.19 L78.59 218.21 L79.31 219.22 L80.02 220.21 L80.72 221.19 L81.41 222.16 L82.10 223.13 L82.77 224.08 L83.44 225.02 L84.09 225.94 L84.74 226.85 L85.37 227.73 L86.00 228.60 L86.62 229.45 L87.23 230.27 L87.83 231.07 L88.42 231.85 L89.00 232.62 L89.57 233.36 L90.14 234.09 L90.69 234.81 L91.23 235.50 L91.77 236.18 L92.29 236.84 L92.81 237.49 L93.31 238.12 L93.81 238.73 L94.29 239.33 L94.77 239.91 L95.23 240.48 L95.69 241.04 L96.13 241.57 L96.57 242.10 L96.99 242.61 L97.41 243.10 L97.81 243.58 L98.21 244.04 L98.59 244.49 L98.97 244.92 L99.33 245.34 L99.68 245.75 L100.02 246.14 L100.36 246.52 L100.68 246.89 L100.99 247.24 L101.28 247.58 L101.57 247.90 L101.85 248.21 L102.11 248.50 L102.36 248.79 L102.61 249.05 L102.84 249.31 L103.05 249.55 L103.26 249.78 L103.45 250.00 L103.63 250.20 L103.80 250.39 L103.96 250.56 L104.10 250.72 L104.23 250.86 L104.34 250.99 L104.44 251.11 L104.53 251.20 L104.60 251.28 L104.65 251.34 L104.69 251.38 L104.70 251.40" stroke="#000" stroke-width="2.15" stroke-linecap="square"/>
<path d="M38.50 184.40 L39.59 184.43 L40.67 184.53 L41.74 184.68 L42.81 184.90 L43.87 185.17 L44.91 185.49 L45.96 185.87 L46.99 186.29 L48.01 186.77 L49.03 187.30 L50.04 187.87 L51.04 188.49 L52.03 189.15 L53.01 189.85 L53.99 190.59 L54.95 191.37 L55.91 192.20 L56.86 193.08 L57.80 193.98 L58.74 194.92 L59.66 195.86 L60.58 196.82 L61.49 197.77 L62.39 198.73 L63.28 199.69 L64.16 200.68 L65.04 201.67 L65.91 202.68 L66.76 203.70 L67.61 204.73 L68.45 205.77 L69.29 206.81 L70.11 207.66 L70.92 208.32 L71.73 208.96 L72.53 209.72 L73.32 210.74 L74.10 211.85 L74.87 213.00 L75.63 214.19 L76.39 215.38 L77.13 216.58 L77.87 217.77 L78.59 218.93 L79.31 220.07 L80.02 221.18 L80.72 222.24 L81.41 223.29 L82.10 224.34 L82.77 225.37 L83.44 226.39 L84.09 227.40 L84.74 228.40 L85.37 229.39 L86.00 230.36 L86.62 231.32 L87.23 232.27 L87.83 233.20 L88.42 234.12 L89.00 235.03 L89.57 235.92 L90.14 236.80 L90.69 237.66 L91.23 238.51 L91.77 239.35 L92.29 240.17 L92.81 240.98 L93.31 241.77 L93.81 242.54 L94.29 243.30 L94.77 244.04 L95.23 244.76 L95.69 245.45 L96.13 246.11 L96.57 246.75 L96.99 247.37 L97.41 247.96 L97.81 248.53 L98.21 249.08 L98.59 249.62 L98.97 250.14 L99.33 250.64 L99.68 251.13 L100.02 251.60 L100.36 252.06 L100.68 252.51 L100.99 252.93 L101.28 253.34 L101.57 253.73 L101.85 254.10 L102.11 254.46 L102.36 254.79 L102.61 255.11 L102.84 255.40 L103.05 255.68 L103.26 255.93 L103.45 256.17 L103.63 256.39 L103.80 256.59 L103.96 256.77 L104.10 256.94 L104.23 257.08 L104.34 257.21 L104.44 257.32 L104.53 257.41 L104.60 257.49 L104.65 257.55 L104.69 257.58 L104.70 257.60" stroke="#000" stroke-width="1.85" stroke-dasharray="5.3 2.8 1.7 2.8" stroke-dashoffset="8.4"/>
<path d="M38.50 247.00 L39.59 247.01 L40.67 247.01 L41.74 247.02 L42.81 247.02 L43.87 247.03 L44.91 247.04 L45.96 247.04 L46.99 247.05 L48.01 247.05 L49.03 247.06 L50.04 247.07 L51.04 247.07 L52.03 247.08 L53.01 247.09 L53.99 247.09 L54.95 247.10 L55.91 247.10 L56.86 247.11 L57.80 247.12 L58.74 247.12 L59.66 247.13 L60.58 247.13 L61.49 247.14 L62.39 247.15 L63.28 247.15 L64.16 247.16 L65.04 247.17 L65.91 247.17 L66.76 247.18 L67.61 247.18 L68.45 247.19 L69.29 247.19 L70.11 247.20 L70.92 247.21 L71.73 247.21 L72.53 247.22 L73.32 247.23 L74.10 247.23 L74.87 247.24 L75.63 247.25 L76.39 247.26 L77.13 247.27 L77.87 247.27 L78.59 247.28 L79.31 247.29 L80.02 247.30 L80.72 247.30 L81.41 247.31 L82.10 247.32 L82.77 247.32 L83.44 247.33 L84.09 247.34 L84.74 247.34 L85.37 247.35 L86.00 247.36 L86.62 247.36 L87.23 247.37 L87.83 247.37 L88.42 247.37 L89.00 247.38 L89.57 247.38 L90.14 247.39 L90.69 247.39 L91.23 247.39 L91.77 247.39 L92.29 247.40 L92.81 247.40 L93.31 247.40 L93.81 247.40 L94.29 247.40 L94.77 247.40 L95.23 247.40 L95.69 247.40 L96.13 247.39 L96.57 247.38 L96.99 247.36 L97.41 247.34 L97.81 247.32 L98.21 247.30 L98.59 247.27 L98.97 247.24 L99.33 247.21 L99.68 247.17 L100.02 247.13 L100.36 247.09 L100.68 247.05 L100.99 247.00 L101.28 246.90 L101.57 246.68 L101.85 246.39 L102.11 246.03 L102.36 245.64 L102.61 245.23 L102.84 244.81 L103.05 244.39 L103.26 243.90 L103.45 243.34 L103.63 242.73 L103.80 242.10 L103.96 241.47 L104.10 240.86 L104.23 240.28 L104.34 239.75 L104.44 239.27 L104.53 238.86 L104.60 238.51 L104.65 238.25 L104.69 238.07 L104.70 238.00" stroke="#777" stroke-width="1.90" stroke-dasharray="5.6 2.35" stroke-dashoffset="1.3"/>
<path d="M37.60 257.55 L105.60 257.55" stroke="#ff0000" stroke-width="1.75"/>
<path d="M38.50 175.80 L39.59 175.84 L40.67 175.98 L41.74 176.19 L42.81 176.49 L43.87 176.87 L44.91 177.33 L45.96 177.87 L46.99 178.47 L48.01 179.15 L49.03 179.89 L50.04 180.70 L51.04 181.57 L52.03 182.50 L53.01 183.49 L53.99 184.52 L54.95 185.61 L55.91 186.75 L56.86 187.93 L57.80 189.15 L58.74 190.40 L59.66 191.70 L60.58 193.02 L61.49 194.37 L62.39 195.75 L63.28 197.16 L64.16 198.58 L65.04 200.03 L65.91 201.48 L66.76 202.95 L67.61 204.43 L68.45 205.92 L69.29 207.41 L70.11 208.91 L70.92 210.40 L71.73 211.90 L72.53 213.38 L73.32 214.87 L74.10 216.34 L74.87 217.80 L75.63 219.25 L76.39 220.69 L77.13 222.11 L77.87 223.51 L78.59 224.89 L79.31 226.26 L80.02 227.60 L80.72 228.91 L81.41 230.20 L82.10 231.47 L82.77 232.71 L83.44 233.92 L84.09 235.10 L84.74 236.25 L85.37 237.37 L86.00 238.46 L86.62 239.52 L87.23 240.55 L87.83 241.54 L88.42 242.50 L89.00 243.43 L89.57 244.32 L90.14 245.18 L90.69 246.01 L91.23 246.80 L91.77 247.56 L92.29 248.29 L92.81 248.98 L93.31 249.64 L93.81 250.27 L94.29 250.87 L94.77 251.44 L95.23 251.97 L95.69 252.47 L96.13 252.95 L96.57 253.39 L96.99 253.81 L97.41 254.20 L97.81 254.56 L98.21 254.90 L98.59 255.21 L98.97 255.50 L99.33 255.76 L99.68 256.01 L100.02 256.23 L100.36 256.43 L100.68 256.61 L100.99 256.78 L101.28 256.92 L101.57 257.05 L101.85 257.17 L102.11 257.27 L102.36 257.36 L102.61 257.43 L102.84 257.50 L103.05 257.55 L103.26 257.60 L103.45 257.64 L103.63 257.67 L103.80 257.69 L103.96 257.71 L104.10 257.72 L104.23 257.73 L104.34 257.74 L104.44 257.75 L104.53 257.75 L104.60 257.75 L104.65 257.75 L104.69 257.75 L104.70 257.75" stroke="#0000ff" stroke-width="1.75" stroke-linecap="square"/>
</g>
<text transform="translate(35.10 262.40) rotate(0.03)" text-anchor="end" class="t">0</text>
<text transform="translate(35.10 230.87) rotate(0.03)" text-anchor="end" class="t">30</text>
<text transform="translate(35.10 199.34) rotate(0.03)" text-anchor="end" class="t">60</text>
<text transform="translate(35.10 167.81) rotate(0.03)" text-anchor="end" class="t">90</text>
<rect x="38.50" y="158.30" width="66.20" height="99.80" fill="none" stroke="#000" stroke-width="0.70"/>
<path d="M38.50 226.42h2.60M38.50 194.89h2.60M38.50 163.36h2.60M71.60 258.10v-2.60" stroke="#000" stroke-width="0.70" fill="none"/>
<text transform="translate(71.60 272.45) rotate(0.03)" text-anchor="middle" class="x">0.5</text>
<text transform="translate(71.60 153.90) rotate(0.03)" text-anchor="middle" class="h">1.1 GeV</text>
</g>
<g>
<g clip-path="url(#c5)" fill="none" stroke-linejoin="round">
<path d="M137.60 173.50 L138.63 173.57 L139.66 173.73 L140.68 173.98 L141.69 174.31 L142.70 174.73 L143.69 175.23 L144.68 175.80 L145.66 176.44 L146.64 177.15 L147.60 177.91 L148.56 178.73 L149.51 179.60 L150.45 180.54 L151.39 181.53 L152.31 182.58 L153.23 183.69 L154.14 184.84 L155.05 186.04 L155.94 187.28 L156.83 188.54 L157.71 189.83 L158.58 191.13 L159.44 192.45 L160.30 193.78 L161.15 195.12 L161.99 196.46 L162.82 197.81 L163.64 199.16 L164.46 200.50 L165.26 201.83 L166.06 203.14 L166.85 204.43 L167.63 205.68 L168.41 206.82 L169.17 207.88 L169.93 208.93 L170.68 210.01 L171.42 211.16 L172.16 212.30 L172.88 213.43 L173.60 214.54 L174.31 215.63 L175.00 216.71 L175.70 217.76 L176.38 218.80 L177.05 219.82 L177.72 220.83 L178.38 221.81 L179.02 222.80 L179.66 223.80 L180.30 224.80 L180.92 225.80 L181.53 226.79 L182.14 227.77 L182.73 228.72 L183.32 229.65 L183.90 230.55 L184.47 231.42 L185.03 232.25 L185.58 233.04 L186.13 233.79 L186.66 234.51 L187.19 235.20 L187.70 235.87 L188.21 236.51 L188.71 237.14 L189.20 237.74 L189.68 238.33 L190.15 238.91 L190.61 239.47 L191.06 240.03 L191.50 240.57 L191.94 241.09 L192.36 241.61 L192.77 242.12 L193.18 242.62 L193.57 243.10 L193.96 243.55 L194.33 243.99 L194.70 244.40 L195.05 244.79 L195.40 245.15 L195.73 245.49 L196.06 245.81 L196.37 246.10 L196.68 246.36 L196.97 246.61 L197.25 246.83 L197.53 247.02 L197.79 247.19 L198.04 247.34 L198.28 247.46 L198.51 247.57 L198.73 247.65 L198.94 247.72 L199.13 247.76 L199.31 247.80 L199.49 247.81 L199.65 247.82 L199.79 247.81 L199.93 247.80 L200.05 247.78 L200.16 247.76 L200.25 247.73 L200.34 247.71 L200.40 247.68 L200.45 247.66 L200.49 247.65 L200.50 247.65" stroke="#000" stroke-width="2.15" stroke-linecap="square"/>
<path d="M137.60 173.00 L138.63 173.08 L139.66 173.26 L140.68 173.53 L141.69 173.87 L142.70 174.31 L143.69 174.81 L144.68 175.40 L145.66 176.05 L146.64 176.76 L147.60 177.53 L148.56 178.36 L149.51 179.26 L150.45 180.21 L151.39 181.21 L152.31 182.28 L153.23 183.40 L154.14 184.57 L155.05 185.78 L155.94 187.02 L156.83 188.30 L157.71 189.59 L158.58 190.91 L159.44 192.24 L160.30 193.59 L161.15 194.94 L161.99 196.31 L162.82 197.68 L163.64 199.05 L164.46 200.41 L165.26 201.77 L166.06 203.10 L166.85 204.42 L167.63 205.70 L168.41 206.87 L169.17 207.98 L169.93 209.08 L170.68 210.20 L171.42 211.38 L172.16 212.55 L172.88 213.70 L173.60 214.84 L174.31 215.96 L175.00 217.07 L175.70 218.15 L176.38 219.22 L177.05 220.27 L177.72 221.30 L178.38 222.32 L179.02 223.33 L179.66 224.36 L180.30 225.39 L180.92 226.41 L181.53 227.42 L182.14 228.42 L182.73 229.40 L183.32 230.35 L183.90 231.28 L184.47 232.17 L185.03 233.02 L185.58 233.83 L186.13 234.61 L186.66 235.35 L187.19 236.06 L187.70 236.75 L188.21 237.42 L188.71 238.06 L189.20 238.69 L189.68 239.30 L190.15 239.89 L190.61 240.48 L191.06 241.05 L191.50 241.60 L191.94 242.15 L192.36 242.69 L192.77 243.21 L193.18 243.73 L193.57 244.22 L193.96 244.69 L194.33 245.14 L194.70 245.57 L195.05 245.98 L195.40 246.36 L195.73 246.71 L196.06 247.05 L196.37 247.36 L196.68 247.64 L196.97 247.90 L197.25 248.14 L197.53 248.35 L197.79 248.54 L198.04 248.70 L198.28 248.84 L198.51 248.96 L198.73 249.07 L198.94 249.15 L199.13 249.21 L199.31 249.26 L199.49 249.29 L199.65 249.32 L199.79 249.33 L199.93 249.33 L200.05 249.32 L200.16 249.31 L200.25 249.29 L200.34 249.28 L200.40 249.26 L200.45 249.25 L200.49 249.24 L200.50 249.23" stroke="#000" stroke-width="1.85" stroke-dasharray="5.3 2.8 1.7 2.8" stroke-dashoffset="8.4"/>
<path d="M137.60 250.90 L138.63 250.90 L139.66 250.91 L140.68 250.91 L141.69 250.92 L142.70 250.92 L143.69 250.93 L144.68 250.93 L145.66 250.94 L146.64 250.94 L147.60 250.95 L148.56 250.95 L149.51 250.95 L150.45 250.96 L151.39 250.96 L152.31 250.96 L153.23 250.97 L154.14 250.97 L155.05 250.97 L155.94 250.98 L156.83 250.98 L157.71 250.98 L158.58 250.98 L159.44 250.99 L160.30 250.99 L161.15 250.99 L161.99 250.99 L162.82 250.99 L163.64 250.99 L164.46 251.00 L165.26 251.00 L166.06 251.00 L166.85 251.00 L167.63 251.00 L168.41 251.00 L169.17 251.00 L169.93 251.00 L170.68 251.00 L171.42 251.00 L172.16 251.00 L172.88 251.00 L173.60 251.00 L174.31 251.00 L175.00 251.00 L175.70 251.00 L176.38 251.00 L177.05 251.00 L177.72 251.00 L178.38 251.00 L179.02 251.00 L179.66 251.00 L180.30 251.00 L180.92 251.00 L181.53 251.00 L182.14 251.00 L182.73 251.00 L183.32 251.00 L183.90 251.00 L184.47 251.00 L185.03 251.00 L185.58 251.00 L186.13 251.00 L186.66 251.00 L187.19 251.00 L187.70 251.00 L188.21 251.00 L188.71 251.00 L189.20 251.00 L189.68 251.00 L190.15 251.00 L190.61 251.00 L191.06 251.00 L191.50 251.00 L191.94 251.00 L192.36 251.00 L192.77 251.00 L193.18 251.00 L193.57 250.99 L193.96 250.98 L194.33 250.96 L194.70 250.93 L195.05 250.90 L195.40 250.86 L195.73 250.82 L196.06 250.77 L196.37 250.72 L196.68 250.67 L196.97 250.62 L197.25 250.56 L197.53 250.51 L197.79 250.45 L198.04 250.39 L198.28 250.29 L198.51 250.15 L198.73 249.97 L198.94 249.77 L199.13 249.55 L199.31 249.33 L199.49 249.11 L199.65 248.89 L199.79 248.68 L199.93 248.49 L200.05 248.31 L200.16 248.15 L200.25 248.01 L200.34 247.89 L200.40 247.79 L200.45 247.72 L200.49 247.67 L200.50 247.65" stroke="#777" stroke-width="1.90" stroke-dasharray="5.6 2.35" stroke-dashoffset="1.3"/>
<path d="M136.70 255.40 L201.40 255.40" stroke="#ff0000" stroke-width="1.75"/>
<path d="M137.60 169.30 L138.63 169.35 L139.66 169.48 L140.68 169.71 L141.69 170.03 L142.70 170.43 L143.69 170.91 L144.68 171.47 L145.66 172.11 L146.64 172.82 L147.60 173.60 L148.56 174.45 L149.51 175.36 L150.45 176.34 L151.39 177.38 L152.31 178.47 L153.23 179.61 L154.14 180.80 L155.05 182.04 L155.94 183.32 L156.83 184.64 L157.71 186.00 L158.58 187.39 L159.44 188.82 L160.30 190.27 L161.15 191.74 L161.99 193.24 L162.82 194.75 L163.64 196.28 L164.46 197.83 L165.26 199.38 L166.06 200.95 L166.85 202.51 L167.63 204.09 L168.41 205.66 L169.17 207.22 L169.93 208.79 L170.68 210.35 L171.42 211.89 L172.16 213.43 L172.88 214.95 L173.60 216.46 L174.31 217.95 L175.00 219.43 L175.70 220.88 L176.38 222.31 L177.05 223.72 L177.72 225.10 L178.38 226.46 L179.02 227.79 L179.66 229.09 L180.30 230.36 L180.92 231.60 L181.53 232.81 L182.14 233.99 L182.73 235.14 L183.32 236.25 L183.90 237.33 L184.47 238.37 L185.03 239.38 L185.58 240.35 L186.13 241.29 L186.66 242.20 L187.19 243.07 L187.70 243.90 L188.21 244.70 L188.71 245.46 L189.20 246.19 L189.68 246.88 L190.15 247.54 L190.61 248.17 L191.06 248.77 L191.50 249.33 L191.94 249.86 L192.36 250.35 L192.77 250.82 L193.18 251.26 L193.57 251.67 L193.96 252.05 L194.33 252.41 L194.70 252.73 L195.05 253.04 L195.40 253.31 L195.73 253.57 L196.06 253.80 L196.37 254.01 L196.68 254.20 L196.97 254.38 L197.25 254.53 L197.53 254.67 L197.79 254.79 L198.04 254.89 L198.28 254.99 L198.51 255.07 L198.73 255.13 L198.94 255.19 L199.13 255.24 L199.31 255.28 L199.49 255.31 L199.65 255.34 L199.79 255.36 L199.93 255.37 L200.05 255.38 L200.16 255.39 L200.25 255.39 L200.34 255.40 L200.40 255.40 L200.45 255.40 L200.49 255.40 L200.50 255.40" stroke="#0000ff" stroke-width="1.75" stroke-linecap="square"/>
</g>
<text transform="translate(134.20 260.05) rotate(0.03)" text-anchor="end" class="t">0</text>
<text transform="translate(134.20 230.28) rotate(0.03)" text-anchor="end" class="t">60</text>
<text transform="translate(134.20 200.50) rotate(0.03)" text-anchor="end" class="t">120</text>
<text transform="translate(134.20 170.73) rotate(0.03)" text-anchor="end" class="t">180</text>
<rect x="137.60" y="161.50" width="62.90" height="94.25" fill="none" stroke="#000" stroke-width="0.70"/>
<path d="M137.60 225.83h2.60M137.60 196.05h2.60M137.60 166.28h2.60M169.05 255.75v-2.60" stroke="#000" stroke-width="0.70" fill="none"/>
<text transform="translate(169.05 270.10) rotate(0.03)" text-anchor="middle" class="x">0.5</text>
<text transform="translate(169.05 157.10) rotate(0.03)" text-anchor="middle" class="h">1.2 GeV</text>
</g>
<g>
<g clip-path="url(#c6)" fill="none" stroke-linejoin="round">
<path d="M231.60 170.80 L232.63 171.10 L233.66 171.49 L234.68 171.95 L235.69 172.47 L236.69 173.04 L237.68 173.65 L238.67 174.28 L239.65 174.95 L240.62 175.69 L241.59 176.50 L242.54 177.38 L243.49 178.33 L244.43 179.34 L245.37 180.41 L246.29 181.54 L247.21 182.72 L248.12 183.97 L249.02 185.27 L249.91 186.62 L250.80 188.00 L251.68 189.42 L252.55 190.87 L253.41 192.33 L254.26 193.80 L255.11 195.28 L255.95 196.77 L256.78 198.25 L257.60 199.75 L258.41 201.25 L259.22 202.74 L260.02 204.24 L260.80 205.74 L261.59 207.24 L262.36 208.71 L263.12 210.15 L263.88 211.58 L264.63 212.98 L265.37 214.38 L266.10 215.76 L266.82 217.14 L267.54 218.52 L268.25 219.90 L268.95 221.28 L269.64 222.64 L270.32 223.97 L270.99 225.28 L271.65 226.56 L272.31 227.80 L272.96 229.02 L273.60 230.19 L274.23 231.39 L274.85 232.61 L275.46 233.83 L276.07 234.99 L276.66 236.07 L277.25 237.05 L277.83 237.98 L278.40 238.86 L278.96 239.69 L279.51 240.47 L280.05 241.20 L280.58 241.88 L281.11 242.50 L281.62 243.05 L282.13 243.52 L282.63 243.92 L283.12 244.26 L283.60 244.56 L284.07 244.82 L284.53 245.06 L284.98 245.29 L285.42 245.49 L285.85 245.66 L286.27 245.79 L286.69 245.89 L287.09 245.96 L287.48 246.00 L287.87 246.01 L288.24 246.00 L288.61 245.97 L288.96 245.92 L289.31 245.86 L289.64 245.77 L289.97 245.65 L290.28 245.50 L290.58 245.32 L290.88 245.10 L291.16 244.86 L291.43 244.59 L291.69 244.30 L291.94 243.99 L292.18 243.67 L292.41 243.33 L292.63 242.97 L292.84 242.61 L293.03 242.23 L293.22 241.85 L293.39 241.47 L293.55 241.09 L293.69 240.71 L293.83 240.34 L293.95 239.99 L294.06 239.66 L294.16 239.35 L294.24 239.08 L294.30 238.85 L294.35 238.67 L294.39 238.55 L294.40 238.50" stroke="#000" stroke-width="2.15" stroke-linecap="square"/>
<path d="M231.60 251.60 L232.63 251.61 L233.66 251.61 L234.68 251.62 L235.69 251.62 L236.69 251.63 L237.68 251.63 L238.67 251.64 L239.65 251.64 L240.62 251.65 L241.59 251.65 L242.54 251.66 L243.49 251.66 L244.43 251.66 L245.37 251.67 L246.29 251.67 L247.21 251.67 L248.12 251.68 L249.02 251.68 L249.91 251.68 L250.80 251.69 L251.68 251.69 L252.55 251.69 L253.41 251.69 L254.26 251.69 L255.11 251.70 L255.95 251.70 L256.78 251.70 L257.60 251.70 L258.41 251.70 L259.22 251.70 L260.02 251.70 L260.80 251.70 L261.59 251.70 L262.36 251.70 L263.12 251.70 L263.88 251.70 L264.63 251.70 L265.37 251.70 L266.10 251.70 L266.82 251.70 L267.54 251.70 L268.25 251.70 L268.95 251.70 L269.64 251.70 L270.32 251.70 L270.99 251.70 L271.65 251.70 L272.31 251.70 L272.96 251.70 L273.60 251.70 L274.23 251.70 L274.85 251.70 L275.46 251.70 L276.07 251.70 L276.66 251.70 L277.25 251.70 L277.83 251.70 L278.40 251.70 L278.96 251.70 L279.51 251.70 L280.05 251.70 L280.58 251.70 L281.11 251.70 L281.62 251.70 L282.13 251.70 L282.63 251.70 L283.12 251.70 L283.60 251.70 L284.07 251.70 L284.53 251.70 L284.98 251.70 L285.42 251.70 L285.85 251.70 L286.27 251.70 L286.69 251.70 L287.09 251.70 L287.48 251.69 L287.87 251.67 L288.24 251.64 L288.61 251.61 L288.96 251.56 L289.31 251.51 L289.64 251.45 L289.97 251.38 L290.28 251.31 L290.58 251.24 L290.88 251.16 L291.16 251.08 L291.43 250.99 L291.69 250.91 L291.94 250.82 L292.18 250.71 L292.41 250.52 L292.63 250.28 L292.84 250.00 L293.03 249.69 L293.22 249.37 L293.39 249.06 L293.55 248.75 L293.69 248.46 L293.83 248.18 L293.95 247.93 L294.06 247.70 L294.16 247.50 L294.24 247.34 L294.30 247.20 L294.35 247.10 L294.39 247.03 L294.40 247.00" stroke="#777" stroke-width="1.90" stroke-dasharray="5.6 2.35" stroke-dashoffset="1.3"/>
<path d="M230.70 255.40 L295.30 255.40" stroke="#ff0000" stroke-width="1.75"/>
<path d="M231.60 173.90 L232.63 173.94 L233.66 174.08 L234.68 174.29 L235.69 174.59 L236.69 174.97 L237.68 175.42 L238.67 175.95 L239.65 176.56 L240.62 177.23 L241.59 177.97 L242.54 178.78 L243.49 179.64 L244.43 180.56 L245.37 181.54 L246.29 182.58 L247.21 183.66 L248.12 184.79 L249.02 185.96 L249.91 187.17 L250.80 188.42 L251.68 189.71 L252.55 191.03 L253.41 192.37 L254.26 193.75 L255.11 195.14 L255.95 196.56 L256.78 197.99 L257.60 199.44 L258.41 200.90 L259.22 202.38 L260.02 203.86 L260.80 205.34 L261.59 206.83 L262.36 208.31 L263.12 209.80 L263.88 211.28 L264.63 212.75 L265.37 214.22 L266.10 215.67 L266.82 217.11 L267.54 218.54 L268.25 219.96 L268.95 221.35 L269.64 222.73 L270.32 224.08 L270.99 225.41 L271.65 226.72 L272.31 228.01 L272.96 229.26 L273.60 230.50 L274.23 231.70 L274.85 232.87 L275.46 234.02 L276.07 235.14 L276.66 236.22 L277.25 237.27 L277.83 238.29 L278.40 239.28 L278.96 240.24 L279.51 241.16 L280.05 242.05 L280.58 242.90 L281.11 243.72 L281.62 244.51 L282.13 245.27 L282.63 245.99 L283.12 246.68 L283.60 247.34 L284.07 247.96 L284.53 248.56 L284.98 249.12 L285.42 249.65 L285.85 250.15 L286.27 250.62 L286.69 251.07 L287.09 251.48 L287.48 251.87 L287.87 252.23 L288.24 252.57 L288.61 252.88 L288.96 253.16 L289.31 253.43 L289.64 253.67 L289.97 253.89 L290.28 254.09 L290.58 254.27 L290.88 254.43 L291.16 254.58 L291.43 254.71 L291.69 254.82 L291.94 254.92 L292.18 255.01 L292.41 255.08 L292.63 255.15 L292.84 255.20 L293.03 255.25 L293.22 255.29 L293.39 255.32 L293.55 255.34 L293.69 255.36 L293.83 255.37 L293.95 255.38 L294.06 255.39 L294.16 255.40 L294.24 255.40 L294.30 255.40 L294.35 255.40 L294.39 255.40 L294.40 255.40" stroke="#0000ff" stroke-width="1.75" stroke-linecap="square"/>
</g>
<text transform="translate(228.20 260.05) rotate(0.03)" text-anchor="end" class="t">0</text>
<text transform="translate(228.20 230.28) rotate(0.03)" text-anchor="end" class="t">70</text>
<text transform="translate(228.20 200.50) rotate(0.03)" text-anchor="end" class="t">140</text>
<text transform="translate(228.20 170.73) rotate(0.03)" text-anchor="end" class="t">210</text>
<rect x="231.60" y="161.50" width="62.80" height="94.25" fill="none" stroke="#000" stroke-width="0.70"/>
<path d="M231.60 225.83h2.60M231.60 196.05h2.60M231.60 166.28h2.60M263.00 255.75v-2.60" stroke="#000" stroke-width="0.70" fill="none"/>
<text transform="translate(263.00 270.10) rotate(0.03)" text-anchor="middle" class="x">0.5</text>
<text transform="translate(263.00 157.10) rotate(0.03)" text-anchor="middle" class="h">1.3 GeV</text>
</g>
<g>
<g clip-path="url(#c7)" fill="none" stroke-linejoin="round">
<path d="M320.00 180.90 L321.09 181.01 L322.17 181.21 L323.25 181.51 L324.32 181.90 L325.37 182.38 L326.42 182.95 L327.47 183.60 L328.50 184.32 L329.53 185.09 L330.54 185.94 L331.55 186.87 L332.56 187.87 L333.55 188.95 L334.53 190.12 L335.51 191.36 L336.48 192.67 L337.44 194.02 L338.39 195.43 L339.33 196.87 L340.27 198.35 L341.20 199.86 L342.11 201.39 L343.02 202.88 L343.93 204.31 L344.82 205.74 L345.70 207.21 L346.58 208.76 L347.45 210.43 L348.31 212.19 L349.16 214.00 L350.00 215.83 L350.83 217.64 L351.66 219.39 L352.47 221.07 L353.28 222.64 L354.08 224.16 L354.87 225.64 L355.65 227.09 L356.42 228.50 L357.19 229.88 L357.94 231.22 L358.69 232.53 L359.43 233.80 L360.15 235.03 L360.87 236.22 L361.59 237.36 L362.29 238.46 L362.98 239.51 L363.66 240.52 L364.34 241.48 L365.00 242.39 L365.66 243.25 L366.31 244.06 L366.94 244.83 L367.57 245.55 L368.19 246.22 L368.80 246.84 L369.40 247.41 L370.00 247.93 L370.58 248.40 L371.15 248.82 L371.71 249.20 L372.27 249.54 L372.81 249.83 L373.35 250.08 L373.87 250.30 L374.39 250.49 L374.89 250.66 L375.39 250.79 L375.88 250.88 L376.35 250.92 L376.82 250.92 L377.27 250.86 L377.72 250.77 L378.16 250.64 L378.58 250.47 L379.00 250.26 L379.40 250.02 L379.80 249.74 L380.18 249.42 L380.56 249.06 L380.92 248.66 L381.28 248.20 L381.62 247.70 L381.95 247.14 L382.27 246.56 L382.58 245.94 L382.88 245.30 L383.17 244.64 L383.44 243.95 L383.71 243.23 L383.96 242.47 L384.20 241.66 L384.43 240.79 L384.65 239.87 L384.86 238.88 L385.05 237.82 L385.23 236.70 L385.40 235.50 L385.56 234.24 L385.70 232.92 L385.83 231.57 L385.94 230.20 L386.04 228.85 L386.13 227.56 L386.20 226.41 L386.25 225.45 L386.29 224.78 L386.30 224.50" stroke="#000" stroke-width="2.15" stroke-linecap="square"/>
<path d="M320.00 249.40 L321.09 249.40 L322.17 249.41 L323.25 249.41 L324.32 249.41 L325.37 249.42 L326.42 249.42 L327.47 249.42 L328.50 249.43 L329.53 249.43 L330.54 249.43 L331.55 249.44 L332.56 249.44 L333.55 249.44 L334.53 249.45 L335.51 249.45 L336.48 249.45 L337.44 249.46 L338.39 249.46 L339.33 249.46 L340.27 249.47 L341.20 249.47 L342.11 249.47 L343.02 249.48 L343.93 249.48 L344.82 249.48 L345.70 249.48 L346.58 249.49 L347.45 249.49 L348.31 249.49 L349.16 249.50 L350.00 249.50 L350.83 249.50 L351.66 249.51 L352.47 249.51 L353.28 249.51 L354.08 249.52 L354.87 249.52 L355.65 249.52 L356.42 249.53 L357.19 249.53 L357.94 249.54 L358.69 249.54 L359.43 249.54 L360.15 249.55 L360.87 249.55 L361.59 249.55 L362.29 249.56 L362.98 249.56 L363.66 249.56 L364.34 249.57 L365.00 249.57 L365.66 249.57 L366.31 249.58 L366.94 249.58 L367.57 249.58 L368.19 249.58 L368.80 249.59 L369.40 249.59 L370.00 249.59 L370.58 249.59 L371.15 249.59 L371.71 249.59 L372.27 249.60 L372.81 249.60 L373.35 249.60 L373.87 249.60 L374.39 249.60 L374.89 249.60 L375.39 249.60 L375.88 249.60 L376.35 249.60 L376.82 249.59 L377.27 249.57 L377.72 249.55 L378.16 249.53 L378.58 249.50 L379.00 249.46 L379.40 249.42 L379.80 249.37 L380.18 249.32 L380.56 249.27 L380.92 249.21 L381.28 249.15 L381.62 249.09 L381.95 249.03 L382.27 248.96 L382.58 248.90 L382.88 248.83 L383.17 248.74 L383.44 248.58 L383.71 248.35 L383.96 248.08 L384.20 247.76 L384.43 247.43 L384.65 247.08 L384.86 246.73 L385.05 246.38 L385.23 246.05 L385.40 245.73 L385.56 245.43 L385.70 245.16 L385.83 244.91 L385.94 244.69 L386.04 244.49 L386.13 244.33 L386.20 244.20 L386.25 244.09 L386.29 244.03 L386.30 244.00" stroke="#777" stroke-width="1.90" stroke-dasharray="5.6 2.35" stroke-dashoffset="1.3"/>
<path d="M319.10 257.55 L387.20 257.55" stroke="#ff0000" stroke-width="1.75"/>
<path d="M320.00 191.00 L321.09 191.04 L322.17 191.14 L323.25 191.32 L324.32 191.56 L325.37 191.87 L326.42 192.25 L327.47 192.68 L328.50 193.18 L329.53 193.73 L330.54 194.33 L331.55 194.99 L332.56 195.70 L333.55 196.46 L334.53 197.26 L335.51 198.11 L336.48 198.99 L337.44 199.92 L338.39 200.88 L339.33 201.87 L340.27 202.89 L341.20 203.95 L342.11 205.03 L343.02 206.13 L343.93 207.25 L344.82 208.40 L345.70 209.56 L346.58 210.73 L347.45 211.92 L348.31 213.12 L349.16 214.32 L350.00 215.53 L350.83 216.75 L351.66 217.97 L352.47 219.19 L353.28 220.40 L354.08 221.61 L354.87 222.82 L355.65 224.02 L356.42 225.21 L357.19 226.39 L357.94 227.56 L358.69 228.72 L359.43 229.86 L360.15 230.99 L360.87 232.10 L361.59 233.19 L362.29 234.26 L362.98 235.31 L363.66 236.34 L364.34 237.35 L365.00 238.34 L365.66 239.30 L366.31 240.24 L366.94 241.15 L367.57 242.04 L368.19 242.90 L368.80 243.74 L369.40 244.55 L370.00 245.33 L370.58 246.09 L371.15 246.81 L371.71 247.51 L372.27 248.19 L372.81 248.83 L373.35 249.45 L373.87 250.04 L374.39 250.61 L374.89 251.15 L375.39 251.66 L375.88 252.15 L376.35 252.61 L376.82 253.04 L377.27 253.45 L377.72 253.84 L378.16 254.20 L378.58 254.54 L379.00 254.86 L379.40 255.15 L379.80 255.43 L380.18 255.68 L380.56 255.92 L380.92 256.13 L381.28 256.33 L381.62 256.51 L381.95 256.67 L382.27 256.82 L382.58 256.96 L382.88 257.08 L383.17 257.18 L383.44 257.28 L383.71 257.36 L383.96 257.43 L384.20 257.49 L384.43 257.54 L384.65 257.59 L384.86 257.63 L385.05 257.66 L385.23 257.68 L385.40 257.70 L385.56 257.72 L385.70 257.73 L385.83 257.74 L385.94 257.74 L386.04 257.75 L386.13 257.75 L386.20 257.75 L386.25 257.75 L386.29 257.75 L386.30 257.75" stroke="#0000ff" stroke-width="1.75" stroke-linecap="square"/>
</g>
<text transform="translate(316.60 262.40) rotate(0.03)" text-anchor="end" class="t">0</text>
<text transform="translate(316.60 230.87) rotate(0.03)" text-anchor="end" class="t">30</text>
<text transform="translate(316.60 199.34) rotate(0.03)" text-anchor="end" class="t">60</text>
<text transform="translate(316.60 167.81) rotate(0.03)" text-anchor="end" class="t">90</text>
<rect x="320.00" y="158.30" width="66.30" height="99.80" fill="none" stroke="#000" stroke-width="0.70"/>
<path d="M320.00 226.42h2.60M320.00 194.89h2.60M320.00 163.36h2.60M353.15 258.10v-2.60" stroke="#000" stroke-width="0.70" fill="none"/>
<text transform="translate(353.15 272.45) rotate(0.03)" text-anchor="middle" class="x">0.5</text>
<text transform="translate(353.15 153.90) rotate(0.03)" text-anchor="middle" class="h">1.4 GeV</text>
</g>
<text y="291.9" class="s" transform="rotate(0.03 204 292)" style="stroke-width:0.06px"><tspan x="190.6" y="291.2" font-size="11" font-family="Liberation Sans, sans-serif">|</tspan><tspan x="193.4 199.0 205.1" y="292.0" font-size="12.5">cos</tspan><tspan x="209.6" y="292.3" class="i" font-size="13.5">θ</tspan><tspan x="216.3" y="291.2" font-size="11" font-family="Liberation Sans, sans-serif">|</tspan></text>
<text transform="translate(9.3 181.9) rotate(-90)" class="s"><tspan x="0">d</tspan><tspan x="7.25" class="i" font-size="13">σ</tspan><tspan x="15.0 20.5" dy="1" font-size="8.5">TT</tspan><tspan x="26.4" dy="-0.2" font-size="14">/</tspan><tspan x="30.4 36.4 41.75 47.9" dy="-0.8">dcos</tspan><tspan x="53.1" class="i" font-size="13.5">θ</tspan><tspan x="61.8" font-size="13">[</tspan><tspan x="66.9 73.5">nb</tspan><tspan x="79.6" font-size="13">]</tspan></text>
</svg>
</body>
</html>
